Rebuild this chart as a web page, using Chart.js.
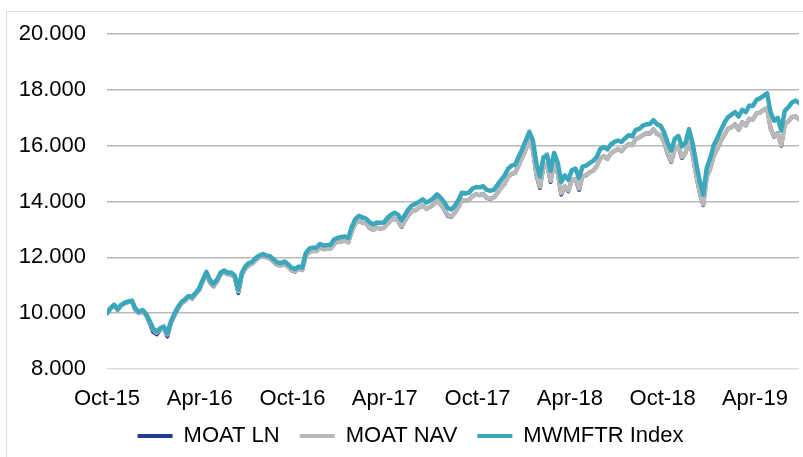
<!DOCTYPE html>
<html>
<head>
<meta charset="utf-8">
<script src="https://cdn.jsdelivr.net/npm/chart.js@4.4.1/dist/chart.umd.min.js"></script>
<style>
  html, body { margin: 0; padding: 0; background: #fff; overflow: hidden; }
  #wrap { position: relative; width: 803px; height: 457px; }
  #frame { position: absolute; left: 6px; top: 11px; width: 840px; height: 480px; border: 1px solid #DCDCDC; box-sizing: border-box; }
  canvas { position: absolute; left: 0; top: 0; }
</style>
</head>
<body>
<div id="wrap">
  <div id="frame"></div>
  <canvas id="myChart" width="803" height="457"></canvas>
</div>
<script>
// Weekly values, first week = 1 Oct 2015
const startDate = '2015-10-01';

const seriesNames = ['MOAT LN', 'MOAT NAV', 'MWMFTR Index'];

const tickDates = ['2015-10-01', '2016-04-01', '2016-10-01', '2017-04-01',
                   '2017-10-01', '2018-04-01', '2018-10-01', '2019-04-01'];
const tickLabels = ['Oct-15', 'Apr-16', 'Oct-16', 'Apr-17', 'Oct-17', 'Apr-18', 'Oct-18', 'Apr-19'];

const moatLN = [
  10000,10160,10300,10110,10290,10350,10410,10420,10120,10010,
  10060,9930,9650,9330,9240,9400,9470,9170,9640,9910,
  10160,10370,10440,10590,10520,10690,10830,11150,11410,11100,
  10960,11130,11400,11450,11400,11380,11280,10720,11370,11600,
  11720,11790,11910,12010,12040,12000,11960,11830,11730,11710,
  11760,11670,11530,11490,11600,11540,12060,12190,12240,12220,
  12360,12290,12300,12320,12490,12570,12570,12610,12540,12950,
  13200,13330,13240,13220,13050,12980,13070,13030,13060,13200,
  13330,13390,13310,13090,13330,13520,13670,13690,13790,13850,
  13730,13810,13890,14040,13890,13720,13490,13450,13600,13790,
  14070,14020,14070,14190,14260,14230,14280,14130,14100,14150,
  14300,14490,14630,14890,14990,15030,15300,15590,15870,16190,
  15850,14950,14490,15270,15340,14700,15420,15040,14250,14540,
  14370,14780,14810,14420,14910,14940,15050,15110,15270,15550,
  15630,15530,15730,15810,15880,15810,15960,16050,16030,16240,
  16300,16380,16450,16440,16590,16420,16390,16120,15710,15420,
  15900,15980,15560,15740,16230,15700,14970,14330,13870,14870,
  15190,15660,15890,16180,16400,16610,16670,16770,16570,16840,
  16730,16970,16940,17160,17190,17290,17350,16620,16320,16450,
  16000,16760,16870,17030,17050,16960
];

const moatNAV = [
  10000,10170,10290,10130,10280,10360,10400,10430,10140,10020,
  10080,9950,9690,9410,9300,9420,9480,9240,9660,9930,
  10190,10360,10460,10580,10540,10680,10850,11140,11420,11130,
  10990,11140,11390,11470,11390,11400,11290,10780,11380,11610,
  11730,11780,11920,12000,12050,11990,11970,11840,11740,11720,
  11770,11680,11550,11500,11590,11550,12050,12200,12230,12230,
  12350,12300,12310,12310,12500,12560,12580,12600,12550,12940,
  13210,13320,13250,13210,13070,12990,13060,13040,13050,13210,
  13320,13400,13320,13110,13320,13530,13660,13700,13780,13860,
  13740,13800,13900,14030,13900,13740,13520,13470,13590,13800,
  14060,14030,14060,14200,14250,14240,14270,14140,14110,14140,
  14310,14480,14640,14880,15000,15020,15310,15580,15880,16180,
  15870,15000,14540,15260,15350,14750,15410,15060,14300,14560,
  14400,14770,14820,14470,14900,14950,15040,15120,15260,15560,
  15620,15540,15720,15820,15870,15820,15950,16060,16020,16250,
  16290,16390,16440,16450,16580,16430,16380,16130,15740,15450,
  15890,15990,15600,15730,16240,15720,15000,14370,13900,14860,
  15200,15650,15900,16170,16410,16600,16680,16760,16580,16830,
  16740,16960,16950,17150,17200,17280,17360,16640,16340,16440,
  16030,16750,16880,17020,17060,16950
];

const mwmftr = [
  10000,10180,10300,10150,10300,10380,10420,10450,10170,10050,
  10110,9980,9730,9450,9340,9460,9520,9280,9700,9970,
  10230,10400,10500,10620,10590,10730,10900,11200,11480,11190,
  11050,11200,11450,11530,11450,11460,11350,10850,11450,11680,
  11800,11850,11990,12070,12120,12060,12040,11920,11820,11800,
  11850,11760,11630,11580,11670,11640,12150,12310,12350,12350,
  12480,12430,12440,12450,12640,12700,12730,12750,12700,13100,
  13380,13490,13430,13390,13260,13180,13250,13240,13250,13410,
  13520,13600,13530,13330,13530,13740,13870,13920,14000,14080,
  13970,14030,14130,14260,14140,13980,13770,13720,13840,14050,
  14320,14290,14320,14470,14520,14510,14550,14420,14390,14420,
  14590,14770,14930,15170,15290,15320,15610,15880,16190,16500,
  16200,15350,14900,15590,15680,15100,15740,15400,14700,14940,
  14780,15130,15180,14850,15250,15290,15380,15460,15600,15890,
  15950,15870,16050,16140,16190,16140,16270,16380,16340,16570,
  16610,16720,16770,16780,16920,16770,16720,16480,16100,15830,
  16250,16350,15980,16100,16600,16100,15400,14750,14250,15200,
  15560,16030,16280,16570,16830,17030,17120,17210,17050,17290,
  17210,17440,17430,17640,17700,17790,17880,17200,16900,17000,
  16550,17250,17380,17550,17620,17540
];

const colors = ['#1F3E8C', '#B9B9B9', '#3AA7BA'];

const weekMs = 7 * 86400000;
const tickWeeks = tickDates.map(d => (Date.parse(d) - Date.parse(startDate)) / weekMs);

function toPoints(arr) {
  return arr.map((v, i) => ({ x: i, y: v }));
}

function fmt(v) {
  return String(v).replace(/\B(?=(\d{3})+(?!\d))/g, '.');
}

const font = { family: '"Liberation Sans", Arial, sans-serif', size: 22 };

// legend sits a little right of the canvas centre in the original
const shiftLegend = {
  id: 'shiftLegend',
  afterLayout(chart) {
    chart.legend.left += 8;
    chart.legend.right += 8;
  }
};

const ctx = document.getElementById('myChart').getContext('2d');
new Chart(ctx, {
  type: 'line',
  data: {
    datasets: [
      { label: seriesNames[0], data: toPoints(moatLN), borderColor: colors[0], backgroundColor: colors[0], borderWidth: 4, order: 3 },
      { label: seriesNames[1], data: toPoints(moatNAV), borderColor: colors[1], backgroundColor: colors[1], borderWidth: 4.5, order: 2 },
      { label: seriesNames[2], data: toPoints(mwmftr), borderColor: colors[2], backgroundColor: colors[2], borderWidth: 4.5, order: 1 }
    ]
  },
  plugins: [shiftLegend],
  options: {
    responsive: false,
    animation: false,
    layout: { padding: { left: 6, right: 4, top: 33, bottom: 0 } },
    elements: {
      point: { radius: 0 },
      line: { tension: 0, borderJoinStyle: 'round', borderCapStyle: 'round' }
    },
    scales: {
      x: {
        type: 'linear',
        min: 0,
        max: mwmftr.length - 1,
        grid: { display: false },
        border: { display: false },
        afterBuildTicks: scale => { scale.ticks = tickWeeks.map(v => ({ value: v })); },
        afterFit: scale => {
          scale.height = 36;
          // let the labels run into the legend area instead of being clipped
          scale._computeLabelArea = () => undefined;
        },
        ticks: {
          autoSkip: false,
          maxRotation: 0,
          padding: 9,
          color: '#000',
          font: font,
          callback: (v, i) => tickLabels[i]
        }
      },
      y: {
        min: 8000,
        max: 20000,
        border: { display: false },
        afterFit: scale => { scale.width = 101; },
        grid: {
          drawTicks: false,
          lineWidth: 1.5,
          color: c => (c.tick && c.tick.value === 8000) ? '#DDDDDD' : '#BABABA'
        },
        ticks: {
          stepSize: 2000,
          padding: 21,
          color: '#000',
          font: font,
          callback: v => fmt(v)
        }
      }
    },
    plugins: {
      tooltip: { enabled: false },
      legend: {
        position: 'bottom',
        labels: {
          boxWidth: 35,
          boxHeight: 4,
          padding: 20,
          color: '#000',
          font: font,
          sort: (a, b) => a.datasetIndex - b.datasetIndex,
          generateLabels: chart => Chart.defaults.plugins.legend.labels.generateLabels(chart)
            .map(l => Object.assign(l, { lineWidth: 0 }))
        }
      }
    }
  }
});
</script>
</body>
</html>
